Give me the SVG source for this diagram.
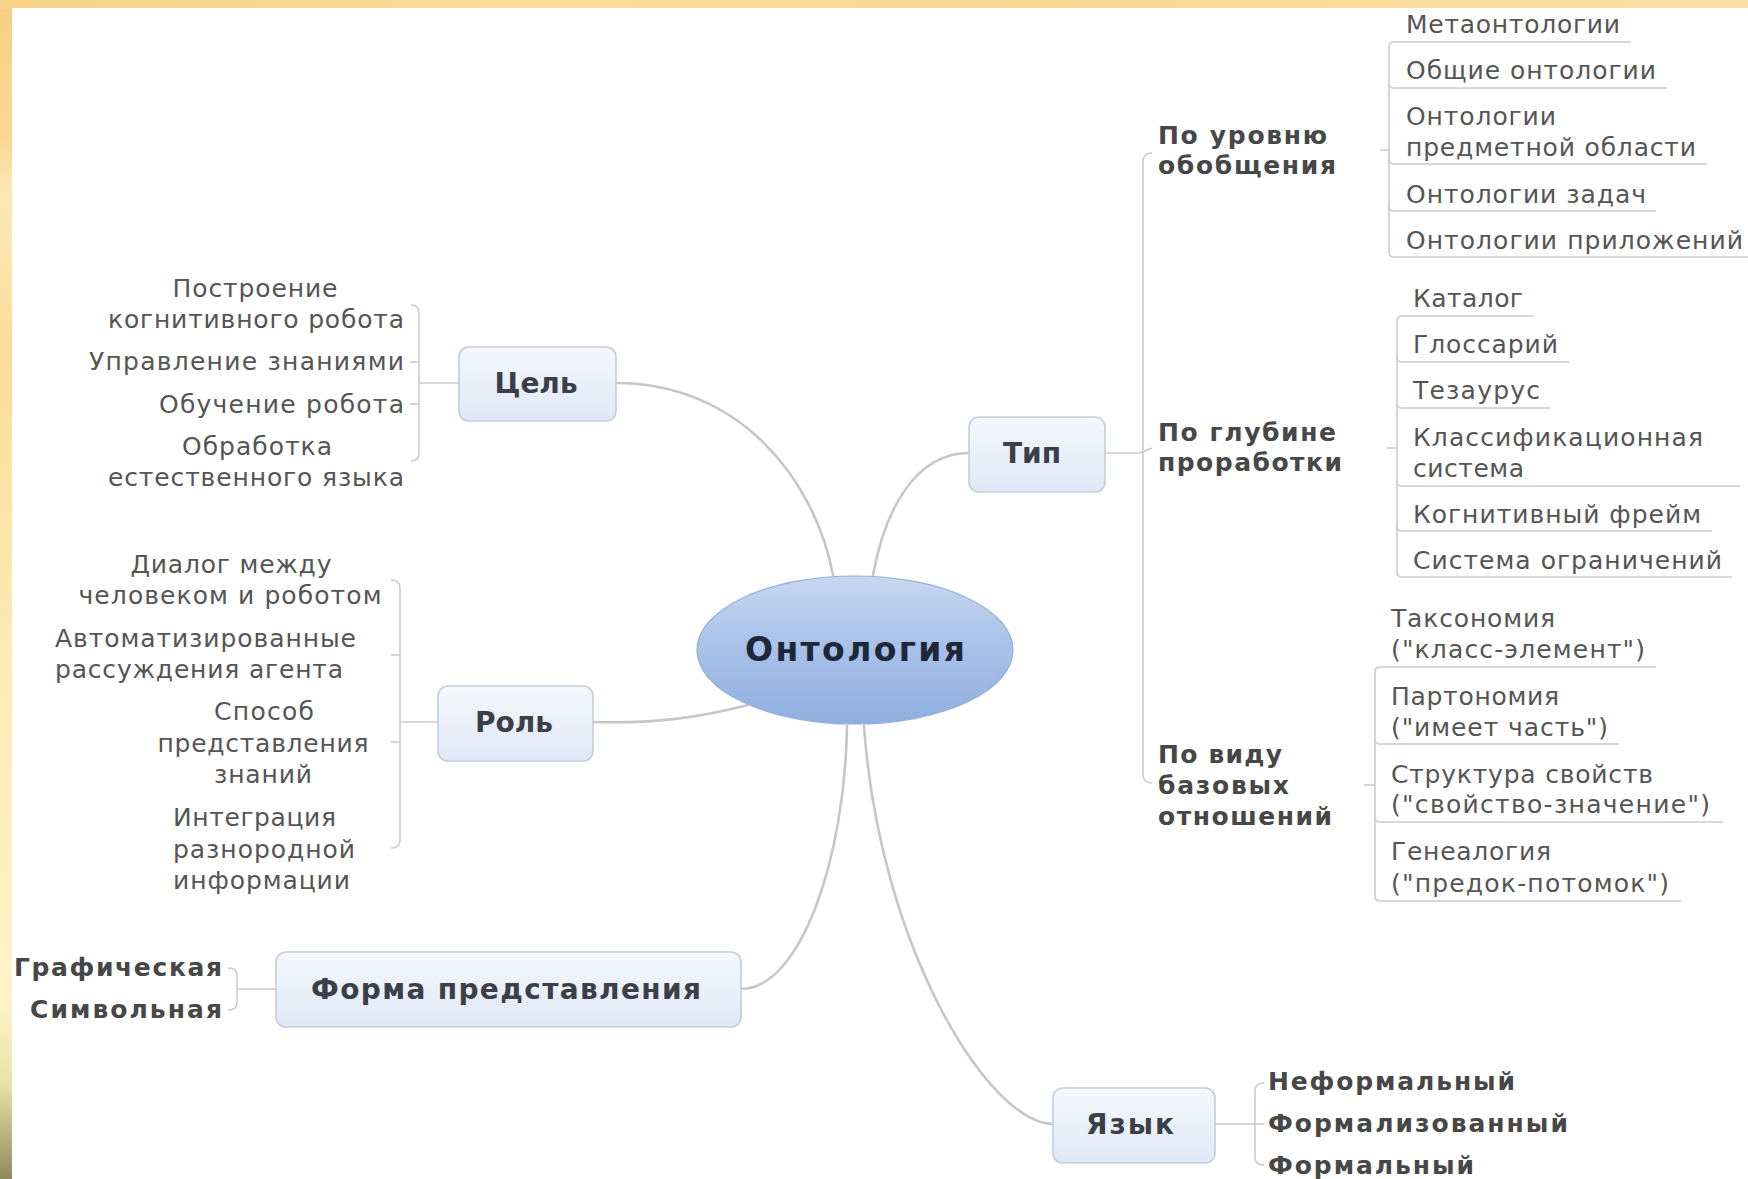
<svg xmlns="http://www.w3.org/2000/svg" width="1748" height="1179" viewBox="0 0 1748 1179">
<defs>
<linearGradient id="leftStrip" x1="0" y1="0" x2="0" y2="1">
<stop offset="0" stop-color="#f6cf84"/>
<stop offset="0.12" stop-color="#f9d995"/>
<stop offset="0.17" stop-color="#fde9b6"/>
<stop offset="0.3" stop-color="#fbdc98"/>
<stop offset="0.55" stop-color="#fdebb3"/>
<stop offset="0.85" stop-color="#fef4c6"/>
<stop offset="0.92" stop-color="#e9e2a6"/>
<stop offset="1" stop-color="#8f8a5c"/>
</linearGradient>
<linearGradient id="topStrip" x1="0" y1="0" x2="1" y2="0">
<stop offset="0" stop-color="#f7d288"/>
<stop offset="0.3" stop-color="#fbdc9a"/>
<stop offset="0.6" stop-color="#fad894"/>
<stop offset="1" stop-color="#fbe0a4"/>
</linearGradient>
<linearGradient id="boxFill" x1="0" y1="0" x2="0" y2="1">
<stop offset="0" stop-color="#f5f8fd"/>
<stop offset="1" stop-color="#dfe8f6"/>
</linearGradient>
<linearGradient id="ellFill" x1="0" y1="0" x2="0" y2="1">
<stop offset="0" stop-color="#c6d7f0"/>
<stop offset="0.5" stop-color="#a6c0e8"/>
<stop offset="1" stop-color="#90afe0"/>
</linearGradient>
<style>
.t{font-family:"DejaVu Sans",Verdana,sans-serif;font-size:25px;fill:#555555}
.b{font-weight:bold;fill:#474747}
.bl{font-family:"DejaVu Sans",Verdana,sans-serif;font-size:28px;font-weight:bold;fill:#3b4048;text-anchor:middle}
.ctr{font-size:33px;fill:#1f2838}
.main{fill:none;stroke:#c6c6c6;stroke-width:2.6;stroke-linecap:round}
.br{fill:none;stroke:#cbcbcb;stroke-width:1.6}
.box{fill:url(#boxFill);stroke:#c3cddc;stroke-width:1.6}
</style>
</defs>

<rect x="0" y="0" width="1748" height="1179" fill="url(#leftStrip)"/>
<rect x="0" y="0" width="1748" height="9" fill="url(#topStrip)"/>
<rect x="12" y="8" width="1736" height="1171" fill="#ffffff"/>

<g id="connectors">
<path class="main" d="M616,383 C740,383 815,480 833,575"/>
<path class="main" d="M969,453 C915,453 885,510 873,575"/>
<path class="main" d="M593,722 C660,724 705,716 748,705"/>
<path class="main" d="M741,989 C800,989 845,860 847,726"/>
<path class="main" d="M1053,1124 C990,1124 880,950 864,726"/>

<path class="br" d="M1105,453 H1138 Q1143,453 1147,450 L1152,448"/>
<path class="br" d="M1152,153 Q1143,153 1143,162 V774 Q1143,783 1152,783"/>

<path class="br" d="M1631,42 H1394 Q1389,42 1389,47 V252 Q1389,257 1394,257 H1748"/>
<path class="br" d="M1389,83 Q1389,88 1394,88 H1667"/>
<path class="br" d="M1389,159 Q1389,164 1394,164 H1707"/>
<path class="br" d="M1389,206 Q1389,211 1394,211 H1656"/>
<path class="br" d="M1380,150 H1389"/>

<path class="br" d="M1534,316 H1402 Q1397,316 1397,321 V572 Q1397,577 1402,577 H1732"/>
<path class="br" d="M1397,357 Q1397,362 1402,362 H1569"/>
<path class="br" d="M1397,403 Q1397,408 1402,408 H1550"/>
<path class="br" d="M1397,481 Q1397,486 1402,486 H1740"/>
<path class="br" d="M1397,526 Q1397,531 1402,531 H1712"/>
<path class="br" d="M1387,448 H1397"/>

<path class="br" d="M1656,667 H1380 Q1375,667 1375,672 V896 Q1375,901 1380,901 H1681"/>
<path class="br" d="M1375,739 Q1375,744 1380,744 H1619"/>
<path class="br" d="M1375,817 Q1375,822 1380,822 H1723"/>
<path class="br" d="M1364,785 H1375"/>

<path class="br" d="M411,305 Q419,305 419,313 V453 Q419,461 411,461"/>
<path class="br" d="M410,362 H419"/>
<path class="br" d="M410,404 H419"/>
<path class="br" d="M419,383 H459"/>

<path class="br" d="M391,580 Q400,580 400,588 V840 Q400,848 391,848"/>
<path class="br" d="M391,655 H400"/>
<path class="br" d="M391,742 H400"/>
<path class="br" d="M400,722 H438"/>

<path class="br" d="M228,968 Q237,968 237,975 V1003 Q237,1010 228,1010"/>
<path class="br" d="M237,989 H276"/>

<path class="br" d="M1264,1083 Q1255,1083 1255,1091 V1157 Q1255,1165 1264,1165"/>
<path class="br" d="M1215,1124 H1264"/>
</g>

<g id="node-ontology">
<ellipse cx="855" cy="650" rx="158" ry="74" fill="url(#ellFill)" stroke="#93afdc" stroke-width="1.2"/>
<text class="bl ctr" x="855" y="661" textLength="220" lengthAdjust="spacing">Онтология</text>
</g>

<g id="node-goal">
<rect class="box" x="459" y="347" width="157" height="74" rx="10"/>
<text class="bl" x="536" y="393">Цель</text>
</g>
<g id="node-goal-children">
<text class="t" x="255" y="297" text-anchor="middle" textLength="165" lengthAdjust="spacing">Построение</text>
<text class="t" x="404" y="328" text-anchor="end" textLength="296" lengthAdjust="spacing">когнитивного робота</text>
<text class="t" x="404" y="370" text-anchor="end" textLength="315" lengthAdjust="spacing">Управление знаниями</text>
<text class="t" x="404" y="413" text-anchor="end" textLength="245" lengthAdjust="spacing">Обучение робота</text>
<text class="t" x="257" y="455" text-anchor="middle" textLength="150" lengthAdjust="spacing">Обработка</text>
<text class="t" x="404" y="486" text-anchor="end" textLength="296" lengthAdjust="spacing">естественного языка</text>
</g>

<g id="node-type">
<rect class="box" x="969" y="417" width="136" height="75" rx="10"/>
<text class="bl" x="1032" y="463">Тип</text>
</g>
<g id="node-type-levels">
<text class="t b" x="1158" y="144" textLength="169" lengthAdjust="spacing">По уровню</text>
<text class="t b" x="1158" y="174" textLength="178" lengthAdjust="spacing">обобщения</text>
<text class="t b" x="1158" y="441" textLength="178" lengthAdjust="spacing">По глубине</text>
<text class="t b" x="1158" y="471" textLength="184" lengthAdjust="spacing">проработки</text>
<text class="t b" x="1158" y="763" textLength="124" lengthAdjust="spacing">По виду</text>
<text class="t b" x="1158" y="794" textLength="131" lengthAdjust="spacing">базовых</text>
<text class="t b" x="1158" y="825" textLength="174" lengthAdjust="spacing">отношений</text>
</g>
<g id="node-level-children">
<text class="t" x="1406" y="33" textLength="214" lengthAdjust="spacing">Метаонтологии</text>
<text class="t" x="1406" y="79" textLength="250" lengthAdjust="spacing">Общие онтологии</text>
<text class="t" x="1406" y="125" textLength="150" lengthAdjust="spacing">Онтологии</text>
<text class="t" x="1406" y="156" textLength="290" lengthAdjust="spacing">предметной области</text>
<text class="t" x="1406" y="203" textLength="240" lengthAdjust="spacing">Онтологии задач</text>
<text class="t" x="1406" y="249" textLength="337" lengthAdjust="spacing">Онтологии приложений</text>
</g>
<g id="node-depth-children">
<text class="t" x="1413" y="307" textLength="110" lengthAdjust="spacing">Каталог</text>
<text class="t" x="1413" y="353" textLength="145" lengthAdjust="spacing">Глоссарий</text>
<text class="t" x="1413" y="399" textLength="127" lengthAdjust="spacing">Тезаурус</text>
<text class="t" x="1413" y="446" textLength="290" lengthAdjust="spacing">Классификационная</text>
<text class="t" x="1413" y="477" textLength="111" lengthAdjust="spacing">система</text>
<text class="t" x="1413" y="523" textLength="288" lengthAdjust="spacing">Когнитивный фрейм</text>
<text class="t" x="1413" y="569" textLength="309" lengthAdjust="spacing">Система ограничений</text>
</g>
<g id="node-relation-children">
<text class="t" x="1391" y="627" textLength="164" lengthAdjust="spacing">Таксономия</text>
<text class="t" x="1391" y="658" textLength="254" lengthAdjust="spacing">("класс-элемент")</text>
<text class="t" x="1391" y="705" textLength="168" lengthAdjust="spacing">Партономия</text>
<text class="t" x="1391" y="736" textLength="217" lengthAdjust="spacing">("имеет часть")</text>
<text class="t" x="1391" y="783" textLength="262" lengthAdjust="spacing">Структура свойств</text>
<text class="t" x="1391" y="813" textLength="319" lengthAdjust="spacing">("свойство-значение")</text>
<text class="t" x="1391" y="860" textLength="160" lengthAdjust="spacing">Генеалогия</text>
<text class="t" x="1391" y="892" textLength="278" lengthAdjust="spacing">("предок-потомок")</text>
</g>

<g id="node-role">
<rect class="box" x="438" y="686" width="155" height="75" rx="10"/>
<text class="bl" x="514" y="732">Роль</text>
</g>
<g id="node-role-children">
<text class="t" x="231" y="573" text-anchor="middle" textLength="201" lengthAdjust="spacing">Диалог между</text>
<text class="t" x="230" y="604" text-anchor="middle" textLength="303" lengthAdjust="spacing">человеком и роботом</text>
<text class="t" x="55" y="647" textLength="301" lengthAdjust="spacing">Автоматизированные</text>
<text class="t" x="55" y="678" textLength="288" lengthAdjust="spacing">рассуждения агента</text>
<text class="t" x="264" y="720" text-anchor="middle" textLength="100" lengthAdjust="spacing">Способ</text>
<text class="t" x="263" y="752" text-anchor="middle" textLength="211" lengthAdjust="spacing">представления</text>
<text class="t" x="263" y="783" text-anchor="middle" textLength="98" lengthAdjust="spacing">знаний</text>
<text class="t" x="173" y="826" textLength="163" lengthAdjust="spacing">Интеграция</text>
<text class="t" x="173" y="858" textLength="182" lengthAdjust="spacing">разнородной</text>
<text class="t" x="173" y="889" textLength="177" lengthAdjust="spacing">информации</text>
</g>

<g id="node-form">
<rect class="box" x="276" y="952" width="465" height="75" rx="10"/>
<text class="bl" x="506" y="999" textLength="390" lengthAdjust="spacing">Форма представления</text>
</g>
<g id="node-form-children">
<text class="t b" x="222" y="976" text-anchor="end" textLength="208" lengthAdjust="spacing">Графическая</text>
<text class="t b" x="222" y="1018" text-anchor="end" textLength="192" lengthAdjust="spacing">Символьная</text>
</g>

<g id="node-language">
<rect class="box" x="1053" y="1088" width="162" height="75" rx="10"/>
<text class="bl" x="1130" y="1134" textLength="88" lengthAdjust="spacing">Язык</text>
</g>
<g id="node-language-children">
<text class="t b" x="1268" y="1090" textLength="247" lengthAdjust="spacing">Неформальный</text>
<text class="t b" x="1268" y="1132" textLength="300" lengthAdjust="spacing">Формализованный</text>
<text class="t b" x="1268" y="1174" textLength="206" lengthAdjust="spacing">Формальный</text>
</g>
</svg>
